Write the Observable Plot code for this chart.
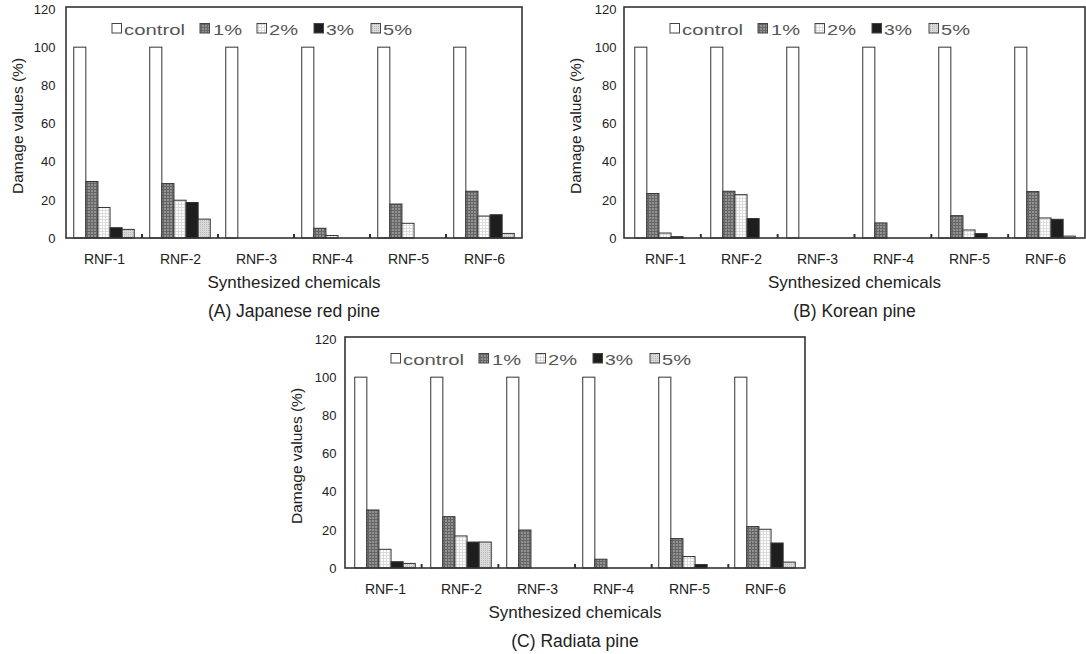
<!DOCTYPE html>
<html>
<head>
<meta charset="utf-8">
<script src="https://cdn.jsdelivr.net/npm/d3@7"></script>
<script src="https://cdn.jsdelivr.net/npm/@observablehq/plot@0.6"></script>
<style>
  html, body { margin: 0; padding: 0; background: #fff; }
  body { width: 1086px; height: 654px; overflow: hidden; position: relative; font-family: 'Liberation Sans', Arial, sans-serif; }
  .panel { position: absolute; }
  .panel svg g[aria-label^="fx-axis"] text { font-size: 14px; }
</style>
</head>
<body>
<svg width="0" height="0" style="position:absolute">
  <defs>
    <pattern id="pat1" width="3" height="3" patternUnits="userSpaceOnUse">
      <rect width="3" height="3" fill="#929292"/>
      <path d="M0 0.5H3M0.5 0V3" stroke="#666" stroke-width="1"/>
    </pattern>
    <pattern id="pat2" width="3" height="3" patternUnits="userSpaceOnUse">
      <rect width="3" height="3" fill="#fff"/>
      <path d="M0 0.5H3M0.5 0V3" stroke="#d4d4d4" stroke-width="0.8"/>
    </pattern>
    <pattern id="pat5" width="2" height="2" patternUnits="userSpaceOnUse">
      <rect width="2" height="2" fill="#dadada"/>
      <rect width="1" height="1" fill="#b8b8b8"/>
    </pattern>
  </defs>
</svg>
<div id="A" class="panel" style="left:0px;top:0px"></div>
<div id="B" class="panel" style="left:558px;top:0px"></div>
<div id="C" class="panel" style="left:279px;top:330px"></div>
<script>
// ---------- data ----------
const chemicals = ["RNF-1", "RNF-2", "RNF-3", "RNF-4", "RNF-5", "RNF-6"];
const concentrations = ["control", "1%", "2%", "3%", "5%"];
const yTicks = [0, 20, 40, 60, 80, 100, 120];

// (A) Japanese red pine
const redPineControl = [100, 100, 100, 100, 100, 100];
const redPine1 = [29.6, 28.5, 0, 5.1, 17.8, 24.5];
const redPine2 = [16.0, 19.8, 0, 1.3, 7.7, 11.5];
const redPine3 = [5.4, 18.6, 0, 0, 0, 12.2];
const redPine5 = [4.5, 9.9, 0, 0, 0, 2.4];

// (B) Korean pine
const koreanControl = [100, 100, 100, 100, 100, 100];
const korean1 = [23.3, 24.5, 0, 7.9, 11.7, 24.3];
const korean2 = [2.6, 22.7, 0, 0, 4.2, 10.5];
const korean3 = [0.7, 10.2, 0, 0, 2.3, 9.8];
const korean5 = [0, 0, 0, 0, 0, 1.0];

// (C) Radiata pine
const radiataControl = [100, 100, 100, 100, 100, 100];
const radiata1 = [30.4, 26.9, 19.9, 4.6, 15.4, 21.7];
const radiata2 = [9.8, 16.8, 0, 0, 6.0, 20.3];
const radiata3 = [3.3, 13.6, 0, 0, 1.8, 13.1];
const radiata5 = [2.4, 13.6, 0, 0, 0, 3.1];

const xTitle = "Synthesized chemicals";
const yTitle = "Damage values (%)";

// ---------- styling ----------
const FONT = "'Liberation Sans', Arial, sans-serif";
const fills = ["#ffffff", "url(#pat1)", "url(#pat2)", "#1e1e1e", "url(#pat5)"];
// legend layout (offsets from frame left, px)
const legendSquare = [46, 134, 191, 248, 305];
const legendTextX = [58, 147, 203, 260, 317];
const legendTextW = [61, 29, 29, 28, 29];

function table(seriesList) {
  return chemicals.flatMap((c, i) =>
    concentrations.map((k, j) => ({chemical: c, conc: k, value: seriesList[j][i]}))
  );
}

function panel(id, seriesList, caption, width, marginRight) {
  const rows = table(seriesList);
  const chart = Plot.plot({
    width,
    height: 330,
    marginLeft: 66,
    marginRight,
    marginTop: 9,
    marginBottom: 92,
    style: {fontFamily: FONT, fontSize: "13px", color: "#222", background: "transparent", overflow: "visible"},
    facet: {data: rows, x: "chemical"},
    fx: {domain: chemicals, padding: 0, label: null, tickSize: 0, tickPadding: 16, axis: "bottom"},
    x: {domain: concentrations, axis: null, paddingInner: 0, paddingOuter: 0.64, round: false},
    y: {domain: [0, 120], ticks: yTicks, tickSize: 0, tickPadding: 11, label: null},
    color: {domain: concentrations, range: fills, legend: false},
    marks: [
      Plot.barY(rows, {x: "conc", y: "value", fill: "conc", stroke: "#333", strokeWidth: 1})
    ]
  });
  const svgNode = chart.tagName.toLowerCase() === "svg" ? chart : chart.querySelector("svg");
  document.getElementById(id).appendChild(chart);

  const fxS = chart.scale("fx");
  const yS = chart.scale("y");
  const fx = d3.scaleBand().domain(fxS.domain).range(fxS.range).paddingInner(0).paddingOuter(0);
  const y = d3.scaleLinear().domain(yS.domain).range(yS.range);
  const left = fxS.range[0], right = fxS.range[1];
  const top = y(120) - 2, bottom = y(0);
  const svg = d3.select(svgNode);

  // frame
  svg.append("rect")
    .attr("x", left).attr("y", top)
    .attr("width", right - left).attr("height", bottom - top)
    .attr("fill", "none").attr("stroke", "#333").attr("stroke-width", 1.6);

  // group boundary ticks
  svg.append("g").selectAll("line").data(chemicals.slice(1)).join("line")
    .attr("x1", d => fx(d)).attr("x2", d => fx(d))
    .attr("y1", bottom).attr("y2", bottom - 4)
    .attr("stroke", "#333").attr("stroke-width", 2);

  // legend
  const lg = svg.append("g").attr("text-anchor", "start");
  concentrations.forEach((k, i) => {
    lg.append("rect")
      .attr("x", left + legendSquare[i]).attr("y", y(120) + 14.5)
      .attr("width", 9.5).attr("height", 9.5)
      .attr("fill", fills[i]).attr("stroke", "#444").attr("stroke-width", 1);
    lg.append("text")
      .attr("x", left + legendTextX[i]).attr("y", y(120) + 20)
      .attr("text-anchor", "start")
      .attr("dominant-baseline", "central")
      .attr("font-family", FONT).attr("font-size", 15.5)
      .attr("fill", "#555")
      .attr("textLength", legendTextW[i]).attr("lengthAdjust", "spacingAndGlyphs")
      .text(k);
  });

  // axis titles & caption
  const cx = (left + right) / 2;
  svg.append("text")
    .attr("x", cx).attr("y", 282)
    .attr("text-anchor", "middle").attr("dominant-baseline", "central")
    .attr("font-family", FONT).attr("font-size", 17).attr("fill", "#222")
    .text(xTitle);
  svg.append("text")
    .attr("x", cx).attr("y", 311)
    .attr("text-anchor", "middle").attr("dominant-baseline", "central")
    .attr("font-family", FONT).attr("font-size", 17.5).attr("fill", "#222")
    .text(caption);
  svg.append("text")
    .attr("transform", `translate(${left - 49},126) rotate(-90)`)
    .attr("text-anchor", "middle").attr("dominant-baseline", "central")
    .attr("font-family", FONT).attr("font-size", 15.5).attr("fill", "#222")
    .text(yTitle);
}

panel("A", [redPineControl, redPine1, redPine2, redPine3, redPine5], "(A) Japanese red pine", 540, 18);
panel("B", [koreanControl, korean1, korean2, korean3, korean5], "(B) Korean pine", 528, 1);
panel("C", [radiataControl, radiata1, radiata2, radiata3, radiata5], "(C) Radiata pine", 540, 14);
</script>
</body>
</html>
